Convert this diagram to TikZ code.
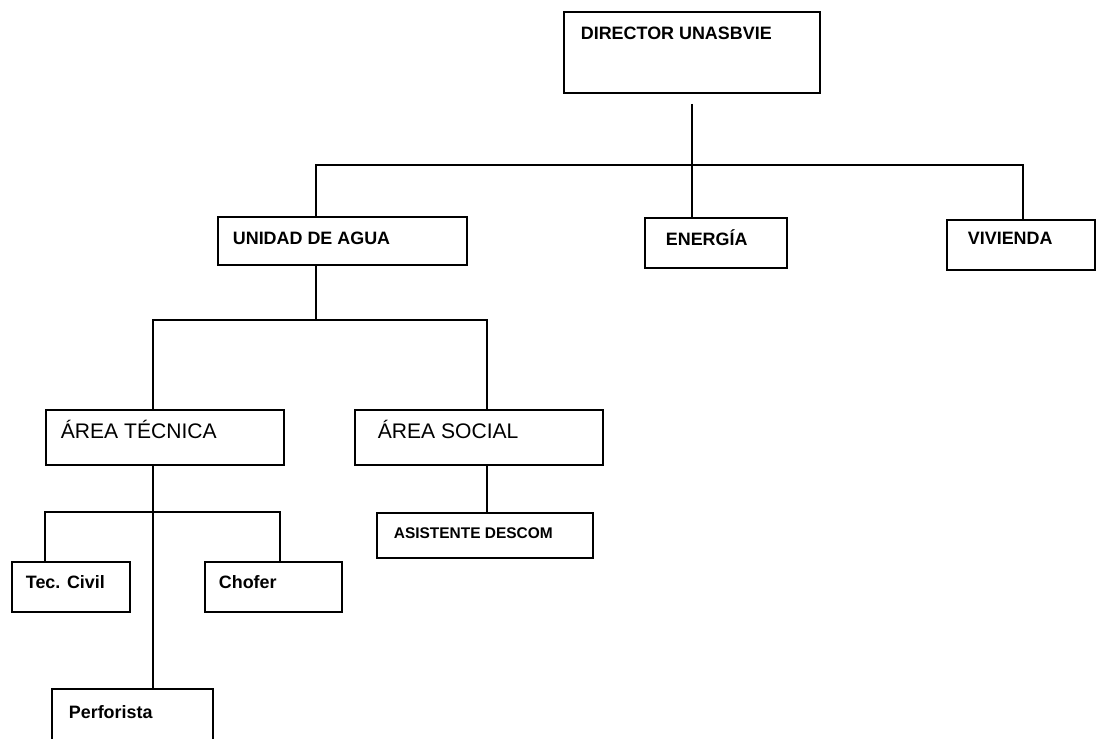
\documentclass[tikz,border=0pt]{standalone}
\usepackage{fontspec}
\setmainfont{Liberation Sans}
\usetikzlibrary{fit}

\tikzset{
  box/.style={draw, line width=1pt, inner sep=0pt},
  lbl/.style={anchor=west, inner sep=0pt, font=\bfseries\fontsize{10.2}{12}\selectfont},
  biglbl/.style={lbl, font=\fontsize{12}{14}\selectfont},
  smalllbl/.style={lbl, font=\bfseries\fontsize{8.8}{10}\selectfont},
}

\begin{document}
\begin{tikzpicture}[x=0.02cm, y=-0.02cm, line width=1pt]
    \clip (0,0) rectangle (1100,738);
    % boxes
    \node[box, fit={(564,12) (820,93)}] (dir) {};
    \node[box, fit={(218,217) (467,265)}] (agua) {};
    \node[box, fit={(645,218) (787,268)}] (ener) {};
    \node[box, fit={(947,220) (1095,270)}] (vivi) {};
    \node[box, fit={(46,410) (284,465)}] (tec) {};
    \node[box, fit={(355,410) (603,465)}] (soc) {};
    \node[box, fit={(377,513) (593,558)}] (asis) {};
    \node[box, fit={(12,562) (130,612)}] (civil) {};
    \node[box, fit={(205,562) (342,612)}] (chof) {};
    \node[box, fit={(52,689) (213,760)}] (perf) {};
    % texts
    \node[lbl] (dirtxt) at (580,33) {DIRECTOR UNASBVIE};
    \node[lbl] (aguatxt) at (232,238) {UNIDAD DE AGUA};
    \node[lbl] (enertxt) at (665,238) {ENERGÍA};
    \node[lbl] (vivitxt) at (967,238) {VIVIENDA};
    \node[biglbl] (tectxt) at (60,429) {ÁREA TÉCNICA};
    \node[biglbl] (soctxt) at (377,429) {ÁREA SOCIAL};
    \node[smalllbl] (asistxt) at (393,533) {ASISTENTE DESCOM};
    \node[lbl] (civiltxt) at (25,582) {Tec. Civil};
    \node[lbl] (choftxt) at (218,582) {Chofer};
    \node[lbl] (perftxt) at (68,712) {Perforista};
    % lines
    \coordinate (j1) at (316,165);
    \coordinate (j2) at (1023,165);
    \coordinate (j3) at (153,320);
    \coordinate (j4) at (487,320);
    \coordinate (j5) at (316,320);
    \coordinate (j6) at (45,512);
    \coordinate (j7) at (280,512);
    \draw ([yshift=-0.2cm]dir.south) -- (dir.south |- ener.north);
    \draw (j1 |- agua.north) -- (j1) -- (j2) -- (j2 |- vivi.north);
    \draw (j5 |- agua.south) -- (j5);
    \draw (j3 |- tec.north) -- (j3) -- (j4) -- (j4 |- soc.north);
    \draw (j4 |- soc.south) -- (j4 |- asis.north);
    \draw (j3 |- tec.south) -- (j3 |- perf.north);
    \draw (j6 |- civil.north) -- (j6) -- (j7) -- (j7 |- chof.north);
\end{tikzpicture}
\end{document}
